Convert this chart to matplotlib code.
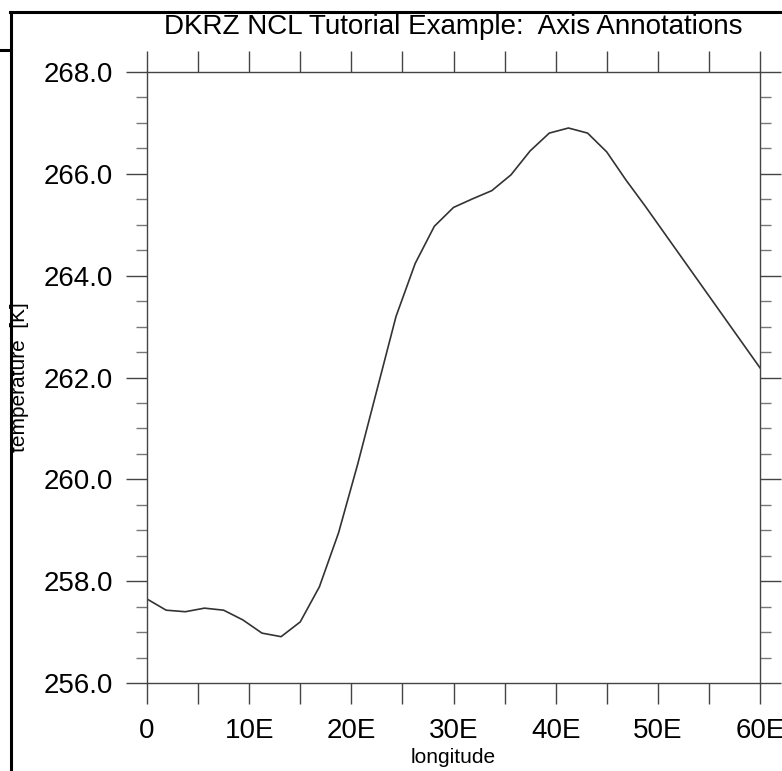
import numpy as np
import matplotlib
matplotlib.use("Agg")
import matplotlib.pyplot as plt
from matplotlib.lines import Line2D

plt.rcParams['font.family'] = ['Liberation Sans', 'DejaVu Sans']

# longitude every 1.875 deg from 0 to 60
lon = np.arange(33) * 1.875
temp = [257.65, 257.43, 257.40, 257.47, 257.43, 257.24, 256.98, 256.91,
        257.20, 257.89, 258.95, 260.30, 261.75, 263.20, 264.24, 264.97,
        265.34, 265.51, 265.67, 265.98, 266.45, 266.80, 266.90, 266.80,
        266.43, 265.88, 265.37, 264.84, 264.31, 263.78, 263.25, 262.72,
        262.19]

xticks = [0, 10, 20, 30, 40, 50, 60]
xlabels = ['0', '10E', '20E', '30E', '40E', '50E', '60E']
yticks = [256, 258, 260, 262, 264, 266, 268]
ylabels = ['256.0', '258.0', '260.0', '262.0', '264.0', '266.0', '268.0']

fig = plt.figure(figsize=(7.82, 7.71), dpi=100)
ax = fig.add_axes([147/782, 88/771, 613/782, 611/771])

ax.plot(lon, temp, color='#333333', lw=1.2)
ax.set_xlim(0, 60)
ax.set_ylim(256, 268)

ax.set_xticks(xticks)
ax.set_xticklabels(xlabels)
ax.set_xticks(np.arange(5, 60, 10), minor=True)
ax.set_yticks(yticks)
ax.set_yticklabels(ylabels)
ax.set_yticks(np.arange(256, 268.01, 0.5), minor=True)

ax.tick_params(axis='both', which='major', direction='out', length=15, width=1,
               labelsize=20, top=True, right=True, color='#444444')
ax.tick_params(axis='x', which='minor', direction='out', length=15, width=1,
               top=True, color='#444444')
ax.tick_params(axis='y', which='minor', direction='out', length=8, width=1,
               right=True, color='#777777')
ax.tick_params(axis='x', which='major', pad=10.5)
ax.tick_params(axis='y', which='major', pad=9.5)
for s in ax.spines.values():
    s.set_color('#444444')
    s.set_linewidth(1)

ax.set_xlabel('longitude', fontsize=15)
ax.xaxis.set_label_coords(0.5, (683 - 748) / 611)
ax.set_ylabel('temperature  [K]', fontsize=15)
ax.yaxis.set_label_coords((29 - 147) / 613, 0.5)
fig.text(453/782, 1 - 27/771, 'DKRZ NCL Tutorial Example:  Axis Annotations',
         fontsize=20, ha='center', va='center')

# border of the screenshot
fig.add_artist(Line2D([11/782, 11/782], [0, 1 - 12/771], color='black', lw=2.2,
                      transform=fig.transFigure))
fig.add_artist(Line2D([10/782, 1], [1 - 12/771, 1 - 12/771], color='black', lw=2.2,
                      transform=fig.transFigure))
fig.add_artist(Line2D([0, 11/782], [1 - 50/771, 1 - 50/771], color='black', lw=2.2,
                      transform=fig.transFigure))

fig.savefig('out.png', dpi=100)
